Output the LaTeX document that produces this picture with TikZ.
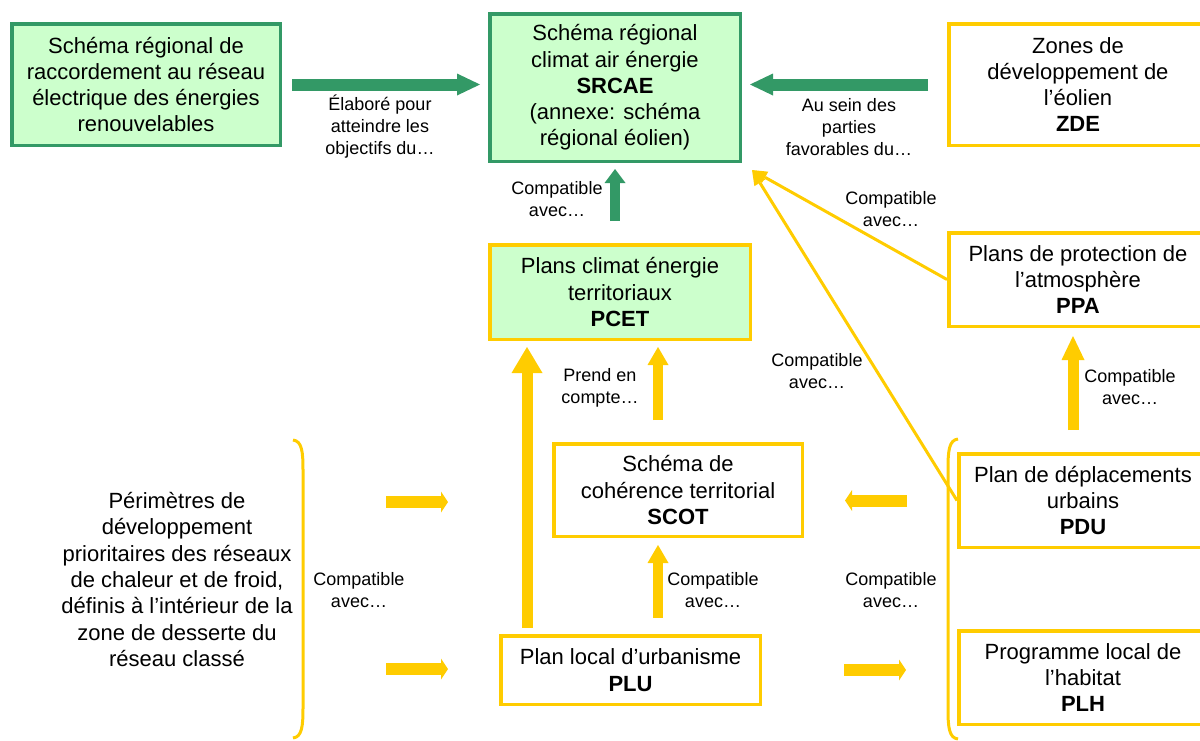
\documentclass[tikz,border=0pt]{standalone}
\usepackage{fontspec}
\setmainfont{Liberation Sans}
\usetikzlibrary{arrows.meta, calc}

\definecolor{vert}{HTML}{339966}
\definecolor{vertclair}{HTML}{CCFFCC}
\definecolor{jaune}{HTML}{FFCC00}
\newcommand{\bxfont}{\fontsize{22}{26.3}\selectfont}
\newcommand{\lbfont}{\fontsize{18}{22}\selectfont}

\begin{document}
\begin{tikzpicture}[
    x=1pt, y=-1pt,
    schema/.style={draw=#1, line width=3.5pt, align=center, inner sep=0pt, font=\bxfont},
    lbl/.style={align=center, inner sep=0pt, font=\lbfont},
    greenarrow/.style={draw=vert, line width=12pt, -{Triangle[width=22pt, length=23pt, line width=0pt]}},
    greenup/.style={draw=vert, line width=10pt, -{Triangle[width=21pt, length=14pt, line width=0pt]}},
    bigarrow/.style={draw=jaune, line width=11pt, -{Triangle[width=31pt, length=26pt, line width=0pt]}},
    uparrow/.style={draw=jaune, line width=10pt, -{Triangle[width=21pt, length=18pt, line width=0pt]}},
    sidearrow/.style={draw=jaune, line width=12pt, -{Triangle[width=21pt, length=7pt, line width=0pt]}},
    lien/.style={draw=jaune, line width=3pt, -{Triangle[width=13pt, length=15pt, line width=0pt]}},
    accolade/.style={draw=jaune, line width=3pt},
  ]
  \clip (0,0) rectangle (1200,740);

  % ---- Top row ----
  \node[schema=vert, fill=vertclair, minimum width=268.5pt, minimum height=121.5pt] (srrer) at (146,84.5)
    {Schéma régional de\\raccordement au réseau\\électrique des énergies\\renouvelables};
  \node[schema=vert, fill=vertclair, minimum width=250.5pt, minimum height=147.5pt] (srcae) at (615,87.5)
    {Schéma régional\\climat air énergie\\\textbf{SRCAE}\\(annexe: schéma\\régional éolien)};
  \node[schema=jaune, fill=white, minimum width=258.5pt, minimum height=121.5pt] (zde) at (1078,84.5)
    {Zones de\\développement de\\l’éolien\\\textbf{ZDE}};

  % ---- Middle ----
  \node[schema=jaune, fill=white, minimum width=258.5pt, minimum height=93.5pt] (ppa) at (1078,279.5)
    {Plans de protection de\\l’atmosphère\\\textbf{PPA}};
  \node[schema=jaune, fill=vertclair, minimum width=260.5pt, minimum height=94.5pt] (pcet) at (620,292)
    {Plans climat énergie\\territoriaux\\\textbf{PCET}};
  \node[schema=jaune, fill=white, minimum width=248.5pt, minimum height=92.5pt] (scot) at (678,490)
    {Schéma de\\cohérence territorial\\\textbf{SCOT}};
  \node[schema=jaune, fill=white, minimum width=248.5pt, minimum height=93.5pt] (pdu) at (1083,500.5)
    {Plan de déplacements\\urbains\\\textbf{PDU}};

  % ---- Bottom row ----
  \node[align=center, inner sep=0pt, font=\bxfont] (peri) at (177,579.5)
    {Périmètres de\\développement\\prioritaires des réseaux\\de chaleur et de froid,\\définis à l’intérieur de la\\zone de desserte du\\réseau classé};
  \node[schema=jaune, fill=white, minimum width=259.5pt, minimum height=68.5pt] (plu) at (630.5,670)
    {Plan local d’urbanisme\\\textbf{PLU}};
  \node[schema=jaune, fill=white, minimum width=248.5pt, minimum height=93.5pt] (plh) at (1083,677.5)
    {Programme local de\\l’habitat\\\textbf{PLH}};

  % ---- Brackets ----
  \draw[accolade] (293,440) .. controls (302,441) and (303,452) .. (303,470) -- (303,708)
    .. controls (303,726) and (302,737) .. (293,738);
  \draw[accolade] (958,439) .. controls (949,440) and (948,451) .. (948,469) -- (948,709)
    .. controls (948,727) and (949,738) .. (958,739);
  \coordinate (periA) at (303,502);
  \coordinate (periB) at (303,669);

  % ---- Green arrows ----
  \draw[greenarrow, shorten <=10pt, shorten >=8pt] (srrer.east) -- (srrer.east -| srcae.west);
  \draw[greenarrow, shorten <=19pt, shorten >=8pt] (zde.west) -- (zde.west -| srcae.east);
  \draw[greenup, shorten <=22pt, shorten >=6pt] (srcae.south |- pcet.north) -- (srcae.south);

  % ---- Yellow arrows ----
  \draw[bigarrow, shorten <=6pt, shorten >=6pt] ([xshift=-103.5pt]plu.north) -- ([xshift=-103.5pt]plu.north |- pcet.south);
  \draw[uparrow, shorten <=22pt, shorten >=6pt] ([xshift=-20pt]scot.north) -- ([xshift=-20pt]scot.north |- pcet.south);
  \draw[uparrow, shorten <=16pt, shorten >=7pt] ([xshift=-20pt]scot.south |- plu.north) -- ([xshift=-20pt]scot.south);
  \draw[uparrow, line width=11pt, -{Triangle[width=23pt, length=24pt, line width=0pt]}, shorten <=22pt, shorten >=8pt]
    ([xshift=-5pt]ppa.south |- pdu.north) -- ([xshift=-5pt]ppa.south);
  \draw[sidearrow, shorten <=50pt, shorten >=41pt] (pdu.west) -- (pdu.west -| scot.east);
  \draw[sidearrow, shorten <=82pt, shorten >=51pt] (plu.east) -- (plu.east -| plh.west);
  \draw[sidearrow, shorten <=83pt, shorten >=104pt] (periA) -- (periA -| scot.west);
  \draw[sidearrow, shorten <=83pt, shorten >=51pt] (periB) -- (periB -| plu.west);

  % ---- Thin links to SRCAE ----
  \draw[lien] (ppa.west) -- ([shift={(10,7)}]srcae.south east);
  \draw[lien] (pdu.west) -- ([shift={(10,7)}]srcae.south east);

  % ---- Labels ----
  \node[lbl] (l1) at (380,127) {Élaboré pour\\atteindre les\\objectifs du…};
  \node[lbl] (l2) at (849,127) {Au sein des\\parties\\favorables du…};
  \node[lbl] (l3) at (557,199) {Compatible\\avec…};
  \node[lbl] (l4) at (891,209.5) {Compatible\\avec…};
  \node[lbl] (l5) at (817,371) {Compatible\\avec…};
  \node[lbl] (l6) at (600,387.5) {Prend en\\compte…};
  \node[lbl] (l7) at (1130,387) {Compatible\\avec…};
  \node[lbl] (l8) at (713,590) {Compatible\\avec…};
  \node[lbl] (l9) at (891,590) {Compatible\\avec…};
  \node[lbl] (l10) at (359,590.5) {Compatible\\avec…};

\end{tikzpicture}
\end{document}
